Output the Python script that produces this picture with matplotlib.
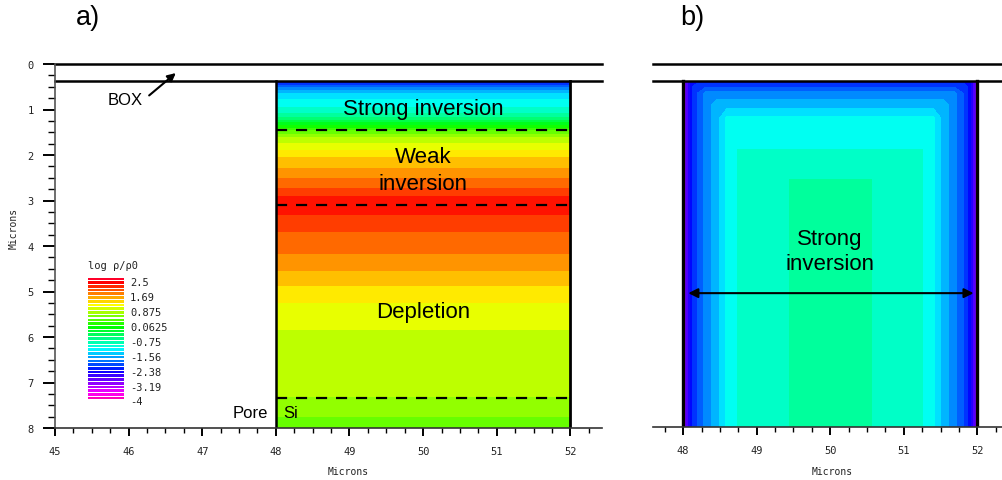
import numpy as np
import matplotlib.pyplot as plt
from matplotlib.colors import Normalize
from matplotlib.ticker import MultipleLocator

# colour scale (log rho / rho0)
vmin, vmax = -4.0, 2.5
legend_labels = ["2.5", "1.69", "0.875", "0.0625", "-0.75", "-1.56", "-2.38", "-3.19", "-4"]

# panel a: depth profile in the Si strip (microns -> log rho/rho0), same across x
depth_a = [0.38, 0.42, 0.55, 0.66, 0.80, 0.92, 1.05, 1.16, 1.25, 1.36, 1.44, 1.50,
           1.60, 1.75, 1.90, 2.05, 2.25, 2.42, 2.60, 2.80, 2.98, 3.10, 3.25, 3.45,
           3.80, 4.10, 4.35, 4.60, 4.85, 5.00, 5.35, 5.65, 6.00, 6.40, 7.30, 7.38, 8.00]
rho_a = [-2.7, -2.3, -1.8, -1.5, -1.3, -1.2, -1.0, -0.8, -0.45, -0.05, 0.2, 0.4,
         0.65, 0.9, 1.1, 1.3, 1.45, 1.6, 1.8, 1.95, 2.2, 2.3, 2.15, 1.98,
         1.85, 1.72, 1.6, 1.45, 1.3, 1.15, 1.05, 0.95, 0.82, 0.75, 0.7, 0.5, 0.45]
x_a = [48.0, 52.0]
dash_depths = [1.46, 3.1, 7.35]

# panel b: profile across the strip (left half, mirrored) and down the middle
x_b_half = [48.0, 48.05, 48.11, 48.18, 48.31, 48.46, 48.6, 48.75, 48.95, 49.2, 49.46, 49.8, 50.0]
rho_b_side = [-3.2, -2.95, -2.45, -2.2, -1.9, -1.65, -1.3, -1.15, -1.08, -1.0, -0.95, -0.85, -0.8]
depth_b = [0.38, 0.41, 0.50, 0.65, 0.90, 1.20, 1.55, 1.90, 2.20, 2.55, 3.00, 8.00]
rho_b_mid = [-3.0, -2.45, -2.2, -1.9, -1.65, -1.3, -1.25, -1.15, -1.05, -0.95, -0.85, -0.8]

plt.rcParams['font.family'] = 'DejaVu Sans Mono'
txt_font = 'Liberation Sans'
cmap = plt.get_cmap('gist_rainbow_r')
norm = Normalize(vmin, vmax)
levels = np.linspace(vmin, vmax, 33)

fig = plt.figure(figsize=(10.03, 4.81), dpi=100)
W, H = 1003, 481


def style_axis(ax):
    ax.spines['top'].set_visible(False)
    ax.spines['right'].set_visible(False)
    ax.xaxis.set_major_locator(MultipleLocator(1))
    ax.xaxis.set_minor_locator(MultipleLocator(0.25))
    ax.tick_params(axis='x', which='major', direction='out', length=6, width=1.4,
                   pad=7, labelsize=7.5, labelcolor='#222')
    ax.tick_params(axis='x', which='minor', direction='out', length=3.5, width=1.0)
    ax.spines['bottom'].set_linewidth(1.2)
    ax.spines['bottom'].set_color('#333')


# ---------- panel a ----------
ax = fig.add_axes([55 / W, 1 - 429 / H, (602 - 55) / W, (429 - 65) / H])
ax.set_xlim(45, 52.43)
ax.set_ylim(8, 0)
style_axis(ax)
ax.yaxis.set_major_locator(MultipleLocator(1))
ax.yaxis.set_minor_locator(MultipleLocator(0.25))
ax.tick_params(axis='y', which='major', direction='out', length=8.5, width=1.4,
               pad=7, labelsize=7.5, labelcolor='#222')
ax.tick_params(axis='y', which='minor', direction='out', length=5, width=1.0)
ax.spines['left'].set_linewidth(1.2)
ax.spines['left'].set_color('#555')

field_a = np.column_stack([rho_a, rho_a])
ax.contourf(x_a, depth_a, field_a, levels=levels, cmap=cmap, norm=norm)

for d in [0.0, 0.38]:
    ax.axhline(d, color='k', lw=1.8, clip_on=False)
ax.plot([48, 48], [0.38, 8], color='k', lw=1.8)
ax.plot([52, 52], [0.38, 8], color='k', lw=2)
for d in dash_depths:
    ax.plot([48, 52], [d, d], color='k', lw=1.6, linestyle=(0, (5, 4)))

ax.text(50, 0.97, "Strong inversion", ha='center', va='center', fontsize=16, family=txt_font)
ax.text(50, 2.33, "Weak\ninversion", ha='center', va='center', fontsize=16,
        family=txt_font, linespacing=1.35)
ax.text(50, 5.43, "Depletion", ha='center', va='center', fontsize=16, family=txt_font)
ax.text(47.9, 7.65, "Pore", ha='right', va='center', fontsize=12, family=txt_font)
ax.text(48.1, 7.65, "Si", ha='left', va='center', fontsize=12, family=txt_font)
ax.text(45.95, 0.79, "BOX", ha='center', va='center', fontsize=12, family=txt_font)
ax.annotate("", xy=(46.67, 0.16), xytext=(46.25, 0.73),
            arrowprops=dict(arrowstyle='-|>', lw=1.5, color='k', mutation_scale=12))

# legend stripes
lg = fig.add_axes([88 / W, 1 - 401 / H, 36 / W, 123 / H])
leg_vals = np.linspace(vmax, vmin, 33)
lg.barh(np.arange(33), 1, height=0.72, color=cmap(norm(leg_vals)))
lg.set_ylim(32.5, -0.5)
lg.set_xlim(0, 1)
lg.axis('off')
for i, lab in enumerate(legend_labels):
    lg.text(1.17, i * 4 + 0.9, lab, transform=lg.get_yaxis_transform(),
            ha='left', va='center', fontsize=7.5, color='#222')
fig.text(88 / W, 1 - 266 / H, "log ρ/ρ0", ha='left', va='center', fontsize=7.5, color='#222')

fig.text(348 / W, 1 - 472 / H, "Microns", ha='center', va='center', fontsize=7, color='#222')
fig.text(14 / W, 1 - 228 / H, "Microns", ha='center', va='center', fontsize=7,
         rotation=90, color='#222')
fig.text(88 / W, 1 - 18 / H, "a)", ha='center', va='center', fontsize=19.5, family=txt_font)

# ---------- panel b ----------
bx = fig.add_axes([653 / W, 1 - 428 / H, 350 / W, (428 - 65) / H])
bx.set_xlim(47.59, 52.35)
bx.set_ylim(8, 0)
style_axis(bx)
bx.spines['left'].set_visible(False)
bx.set_yticks([])

x_b = np.concatenate([x_b_half, 100 - np.array(x_b_half[::-1][1:])])
side_b = np.concatenate([rho_b_side, rho_b_side[::-1][1:]])
field_b = np.minimum.outer(rho_b_mid, side_b)
bx.contourf(x_b, depth_b, field_b, levels=levels, cmap=cmap, norm=norm)

for d in [0.0, 0.38]:
    bx.axhline(d, color='k', lw=1.8, clip_on=False)
bx.plot([48, 48], [0.38, 8], color='k', lw=2.4)
bx.plot([52, 52], [0.38, 8], color='k', lw=2.4)
bx.annotate("", xy=(48.07, 5.05), xytext=(51.95, 5.05),
            arrowprops=dict(arrowstyle='<|-|>', lw=1.5, color='k', mutation_scale=14,
                            shrinkA=0, shrinkB=0))
bx.text(50, 4.12, "Strong\ninversion", ha='center', va='center', fontsize=16,
        family=txt_font, linespacing=1.3)

fig.text(832 / W, 1 - 472 / H, "Microns", ha='center', va='center', fontsize=7, color='#222')
fig.text(692 / W, 1 - 18 / H, "b)", ha='center', va='center', fontsize=19.5, family=txt_font)

fig.savefig("out.png", dpi=100)
